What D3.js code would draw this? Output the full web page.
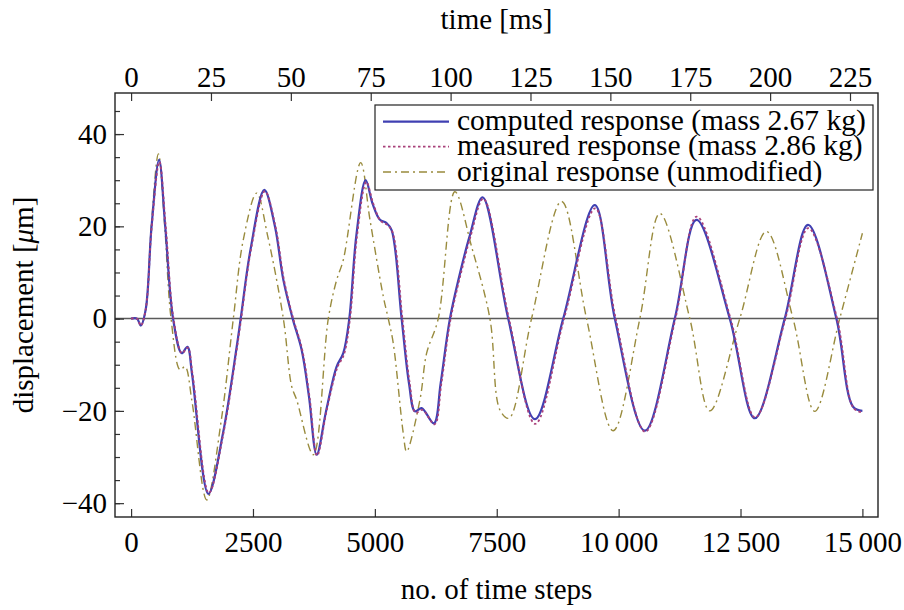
<!DOCTYPE html>
<html>
<head>
<meta charset="utf-8">
<script src="https://cdn.jsdelivr.net/npm/d3@7"></script>
<style>
  body { margin: 0; background: #fff; }
  svg { font-family: "Liberation Serif", "Times New Roman", serif; }
</style>
</head>
<body>
<script>
// data: [time step, displacement in um]
var computed = [
  [0,0],[120,0],[200,-1.5],[300,2],[420,20],[574,34.4],[700,20],[861,0],[1039,-7.5],[1155,-6.1],
  [1250,-12],[1585,-38],[1886,-24.8],[2166,-6.1],[2248,0],[2450,15],[2733,27.9],[2950,20],
  [3123,8.4],[3314,0],[3499,-6.8],[3650,-17],[3806,-29.5],[4000,-20],[4216,-10.4],[4352,-7.5],
  [4476,0],[4620,18],[4811,30.0],[4950,25],[5100,21.5],[5241,20.7],[5344,19.2],[5549,0],
  [5700,-14],[5822,-20.1],[5960,-19.4],[6211,-22.7],[6350,-14],[6540,0],[6813,12.7],[6950,18.1],
  [7210,26.3],[7735,0],[8282,-21.8],[8863,0],[9512,24.6],[9922,0],[10537,-24.3],[11152,0],
  [11597,21.4],[12280,0],[12792,-21.6],[13407,0],[13885,20.3],[14466,0],[14808,-19.1],[15000,-20.0]
];
var measured = [
  [0,0],[120,0],[200,-1.5],[300,2],[420,19.5],[580,34.0],[710,20],[870,0],[1045,-7.5],[1160,-6.3],
  [1260,-12],[1595,-37.8],[1895,-24.8],[2175,-6.1],[2258,0],[2460,15],[2745,27.6],[2960,20],
  [3135,8.4],[3325,0],[3510,-6.8],[3660,-17],[3815,-29.7],[4010,-20],[4230,-10.6],[4365,-7.8],
  [4490,0],[4635,18],[4825,29.6],[4965,25],[5115,21.2],[5255,20.3],[5360,18.8],[5565,0],
  [5715,-14],[5835,-20.4],[5975,-19.8],[6225,-22.9],[6365,-14],[6555,0],[6828,12.5],[6965,17.9],
  [7225,26.0],[7750,0],[8290,-22.8],[8880,0],[9520,23.9],[9940,0],[10545,-24.5],[11165,0],
  [11600,22.1],[12295,0],[12800,-21.4],[13420,0],[13890,19.6],[14480,0],[14820,-19.4],[15000,-20.3]
];
var original = [
  [0,0],[120,0],[200,-1.5],[300,2],[420,21],[560,35.7],[690,20],[820,0],[1005,-11.1],[1107,-10.4],
  [1250,-18],[1551,-39.3],[1850,-22],[2097,0],[2300,17],[2576,27.2],[2800,18],[3123,0],
  [3294,-14.7],[3396,-17.6],[3738,-29.5],[4045,0],[4217,8.4],[4352,12.7],[4709,33.8],[4900,21.4],
  [5173,4.8],[5275,0],[5377,-5.3],[5582,-24.8],[5651,-28.8],[5925,-17.6],[6062,-7.5],[6300,0],
  [6642,27.5],[6984,15.6],[7360,0],[7565,-19.8],[7750,-21.6],[8214,0],[8829,25.4],[9342,0],
  [9887,-24.3],[10435,0],[10845,22.8],[11460,0],[11870,-20.0],[12485,0],[13031,18.9],[13577,0],
  [14022,-20.1],[14535,0],[15000,18.5]
];
var stepTicks = [0, 2500, 5000, 7500, 10000, 12500, 15000];
var stepTickLabels = ["0", "2500", "5000", "7500", "10\u2009000", "12\u2009500", "15\u2009000"];
var msTicks = [0, 25, 50, 75, 100, 125, 150, 175, 200, 225];
var dispTicks = [-40, -20, 0, 20, 40];
var dispMinorTicks = [-40, -35, -30, -25, -20, -15, -10, -5, 0, 5, 10, 15, 20, 25, 30, 35, 40, 45];
var legendLabels = ["computed response (mass 2.67 kg)", "measured response (mass 2.86 kg)", "original response (unmodified)"];

var W = 904, H = 610;
var frame = {left: 115, right: 878, top: 93, bottom: 517};
var stepsPerMs = 65.536;

var svg = d3.select("body").append("svg")
    .attr("width", W)
    .attr("height", H);

var x = d3.scaleLinear().domain([-330, 15320]).range([frame.left, frame.right]);
var xTime = d3.scaleLinear().domain([-330 / stepsPerMs, 15320 / stepsPerMs]).range([frame.left, frame.right]);
var y = d3.scaleLinear().domain([-43, 48.9]).range([frame.bottom, frame.top]);

svg.append("defs").append("clipPath")
    .attr("id", "clip")
  .append("rect")
    .attr("x", frame.left)
    .attr("y", frame.top)
    .attr("width", frame.right - frame.left)
    .attr("height", frame.bottom - frame.top);

// zero line
svg.append("line")
    .attr("x1", frame.left).attr("x2", frame.right)
    .attr("y1", y(0)).attr("y2", y(0))
    .attr("stroke", "#5a5a5a")
    .attr("stroke-width", 1.5);

var line = d3.line()
    .x(function(d) { return x(d[0]); })
    .y(function(d) { return y(d[1]); })
    .curve(d3.curveCatmullRom.alpha(0.5));

var styles = {
  computed: {stroke: "#4040b2", width: 2.2, dash: null},
  measured: {stroke: "#a8407a", width: 1.8, dash: "2.5,2.5"},
  original: {stroke: "#998b3d", width: 1.4, dash: "8,4,2,4"}
};

var plot = svg.append("g").attr("clip-path", "url(#clip)");

[["original", original], ["computed", computed], ["measured", measured]].forEach(function(s) {
  plot.append("path")
      .datum(s[1])
      .attr("fill", "none")
      .attr("stroke", styles[s[0]].stroke)
      .attr("stroke-width", styles[s[0]].width)
      .attr("stroke-dasharray", styles[s[0]].dash)
      .attr("d", line);
});

// axes
var fontSize = 29;

var bottomAxis = svg.append("g")
    .attr("transform", "translate(0," + frame.bottom + ")")
    .call(d3.axisBottom(x).tickValues(stepTicks).tickSize(-8).tickPadding(14)
        .tickFormat(function(d, i) { return stepTickLabels[i]; }));

var topAxis = svg.append("g")
    .attr("transform", "translate(0," + frame.top + ")")
    .call(d3.axisTop(xTime).tickValues(msTicks).tickSize(-8).tickPadding(6));

var leftMinor = svg.append("g")
    .attr("transform", "translate(" + frame.left + ",0)")
    .call(d3.axisLeft(y).tickValues(dispMinorTicks).tickSize(-5).tickFormat(""));

var leftAxis = svg.append("g")
    .attr("transform", "translate(" + frame.left + ",0)")
    .call(d3.axisLeft(y).tickValues(dispTicks).tickSize(-9).tickPadding(8)
        .tickFormat(function(d) { return d < 0 ? "\u2212" + Math.abs(d) : d; }));

svg.selectAll(".domain").remove();
svg.selectAll(".tick line").attr("stroke", "#333").attr("stroke-width", 1.2);
svg.selectAll(".tick text")
    .attr("fill", "#000")
    .style("font-family", "'Liberation Serif', serif")
    .style("font-size", fontSize + "px");
topAxis.selectAll(".tick text").attr("dy", "0em");

// frame
svg.append("rect")
    .attr("x", frame.left)
    .attr("y", frame.top)
    .attr("width", frame.right - frame.left)
    .attr("height", frame.bottom - frame.top)
    .attr("fill", "none")
    .attr("stroke", "#222")
    .attr("stroke-width", 1.4);

// axis titles
svg.append("text")
    .attr("x", (frame.left + frame.right) / 2)
    .attr("y", 29)
    .attr("text-anchor", "middle")
    .style("font-size", fontSize + "px")
    .text("time [ms]");

svg.append("text")
    .attr("x", (frame.left + frame.right) / 2)
    .attr("y", 599)
    .attr("text-anchor", "middle")
    .style("font-size", fontSize + "px")
    .text("no. of time steps");

var yTitle = svg.append("text")
    .attr("transform", "translate(33," + 305 + ") rotate(-90)")
    .attr("text-anchor", "middle")
    .style("font-size", fontSize + "px");
yTitle.append("tspan").text("displacement [");
yTitle.append("tspan").style("font-style", "italic").text("\u03bc");
yTitle.append("tspan").text("m]");

// legend
var legend = svg.append("g");
legend.append("rect")
    .attr("x", 375)
    .attr("y", 105)
    .attr("width", 873 - 375)
    .attr("height", 190 - 105)
    .attr("fill", "#fff")
    .attr("stroke", "#222")
    .attr("stroke-width", 1.2);

var legendKeys = ["computed", "measured", "original"];
var rowY = [121.7, 146.7, 172];

legendLabels.forEach(function(label, i) {
  var st = styles[legendKeys[i]];
  legend.append("line")
      .attr("x1", 383).attr("x2", 449)
      .attr("y1", rowY[i]).attr("y2", rowY[i])
      .attr("stroke", st.stroke)
      .attr("stroke-width", st.width)
      .attr("stroke-dasharray", st.dash);
  legend.append("text")
      .attr("x", 457)
      .attr("y", rowY[i] + 8.5)
      .style("font-size", (fontSize + 0.5) + "px")
      .text(label);
});
</script>
</body>
</html>
